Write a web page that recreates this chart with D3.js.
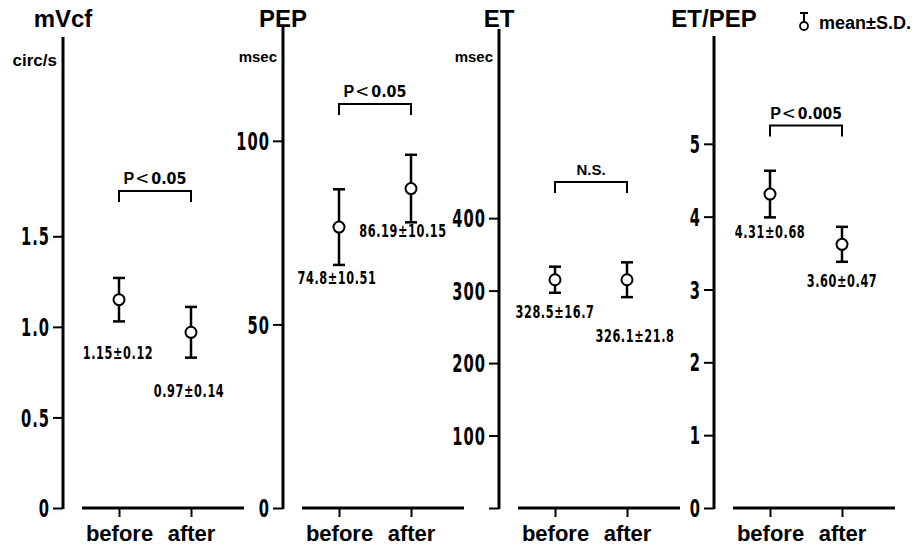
<!DOCTYPE html>
<html>
<head>
<meta charset="utf-8">
<script src="https://cdn.jsdelivr.net/npm/d3@7"></script>
<style>
  body { margin: 0; background: #fff; }
  svg { display: block; }
  .narrow { font-family: "DejaVu Sans Condensed", "DejaVu Sans", sans-serif; font-weight: bold; }
  .sans { font-family: "Liberation Sans", Arial, sans-serif; font-weight: bold; }
</style>
</head>
<body>
<svg id="chart"></svg>
<script>
// chart size
const width = 924;
const height = 545;

// DATA
const titles = ["mVcf", "PEP", "ET", "ET/PEP"];
const units = ["circ/s", "msec", "msec", ""];
const groups = ["before", "after"];
// means and half bar lengths as drawn
const means = [[1.15, 0.97], [76.5, 87.0], [315, 315], [4.31, 3.62]];
const bars = [[0.12, 0.14], [10.3, 9.2], [18, 24], [0.32, 0.24]];
const valueLabels = [
  ["1.15±0.12", "0.97±0.14"],
  ["74.8±10.51", "86.19±10.15"],
  ["328.5±16.7", "326.1±21.8"],
  ["4.31±0.68", "3.60±0.47"]
];
const sigLabels = ["P<0.05", "P<0.05", "N.S.", "P<0.005"];
const sigLevel = [1.75, 110, 450, 5.25];
const yMax = [2.6, 131, 661, 6.48];
const yTicks = [[0, 0.5, 1.0, 1.5], [0, 50, 100], [0, 100, 200, 300, 400], [0, 1, 2, 3, 4, 5]];
const yTickLabels = [["0", "0.5", "1.0", "1.5"], ["0", "50", "100"], ["", "100", "200", "300", "400"], ["0", "1", "2", "3", "4", "5"]];

// layout
const axisX = [63, 283, 499, 714];
const axisTop = [37, 27, 29, 36];
const baseY = 508;
const labelDx = [[-1, -2], [-2, -8], [0, 8], [0, 0]];
const labelDy = [[38, 39], [19, 15], [25, 45], [21, 25]];

// the figure uses a condensed face: squash the text horizontally
function squash(sel, sx) {
  sel.each(function () {
    const t = d3.select(this);
    const x = +t.attr("x") || 0;
    const y = +t.attr("y") || 0;
    t.attr("x", 0).attr("y", 0).attr("transform", `translate(${x},${y}) scale(${sx},1)`);
  });
}

const svg = d3.select("#chart").attr("width", width).attr("height", height);

titles.forEach((title, p) => {
  const x0 = axisX[p];

  const y = d3.scaleLinear().domain([0, yMax[p]]).range([baseY, axisTop[p]]);
  const x = d3.scalePoint().domain(groups).range([x0 + 56, x0 + 128]);

  const g = svg.append("g");

  // title and unit
  g.append("text").attr("class", "sans")
    .attr("x", x0).attr("y", 27)
    .attr("text-anchor", "middle").attr("font-size", 24)
    .text(title);

  if (units[p]) {
    g.append("text").attr("class", "sans")
      .attr("x", x0 - 6).attr("y", p === 0 ? 66 : 62)
      .attr("text-anchor", "end").attr("font-size", p === 0 ? 17 : 15)
      .text(units[p]);
  }

  // y axis
  const yAxis = d3.axisLeft(y)
    .tickValues(yTicks[p])
    .tickSize(10)
    .tickPadding(3)
    .tickFormat((d, i) => yTickLabels[p][i]);

  const ya = g.append("g")
    .attr("transform", `translate(${x0},0)`)
    .call(yAxis);
  ya.select(".domain").remove();
  ya.selectAll(".tick line").attr("stroke", "#000").attr("stroke-width", 2);
  ya.selectAll(".tick text")
    .attr("class", "narrow")
    .attr("font-size", 24)
    .attr("dy", "0.36em")
    .attr("fill", "#000")
    .attr("letter-spacing", 1.5)
    .call(squash, 0.68);

  g.append("line")
    .attr("x1", x0).attr("x2", x0)
    .attr("y1", axisTop[p]).attr("y2", baseY + 1)
    .attr("stroke", "#000").attr("stroke-width", 3);

  // x axis
  const xAxis = d3.axisBottom(x).tickSize(9).tickPadding(6).tickSizeOuter(0);
  const xa = g.append("g")
    .attr("transform", `translate(0,${baseY})`)
    .call(xAxis);
  xa.select(".domain").remove();
  xa.selectAll(".tick line").attr("stroke", "#000").attr("stroke-width", 2);
  xa.selectAll(".tick text")
    .attr("class", "sans")
    .attr("font-size", 22)
    .attr("y", 33)
    .attr("dy", 0)
    .attr("fill", "#000");

  g.append("line")
    .attr("x1", x0 + 19).attr("x2", x0 + 181)
    .attr("y1", baseY).attr("y2", baseY)
    .attr("stroke", "#000").attr("stroke-width", 3);

  // significance bracket
  const by = y(sigLevel[p]);
  g.append("path")
    .attr("d", `M${x("before")},${by + 11}V${by}H${x("after")}V${by + 11}`)
    .attr("fill", "none").attr("stroke", "#000").attr("stroke-width", 2);

  const sig = g.append("text")
    .attr("x", (x("before") + x("after")) / 2).attr("y", by - 7)
    .attr("text-anchor", "middle").attr("font-size", 15);
  if (sigLabels[p].startsWith("P")) {
    const digits = sigLabels[p].slice(2);
    sig.append("tspan").attr("class", "sans").attr("font-size", 16).text("P");
    sig.append("tspan").attr("font-family", "DejaVu Sans").attr("font-size", 17).attr("dx", 1)
      .attr("textLength", 14).attr("lengthAdjust", "spacingAndGlyphs").text("<");
    sig.append("tspan").attr("class", "narrow").attr("dx", 2)
      .attr("textLength", digits.length * 8.8).attr("lengthAdjust", "spacingAndGlyphs")
      .text(digits);
  } else {
    sig.attr("class", "sans").attr("font-size", 15).text(sigLabels[p]);
  }

  // error bars
  const pts = groups.map((grp, i) => ({ grp, m: means[p][i], s: bars[p][i], label: valueLabels[p][i], i }));

  const eb = g.selectAll(".eb").data(pts).enter().append("g").attr("class", "eb");
  eb.append("line")
    .attr("x1", d => x(d.grp)).attr("x2", d => x(d.grp))
    .attr("y1", d => y(d.m + d.s)).attr("y2", d => y(d.m - d.s))
    .attr("stroke", "#000").attr("stroke-width", 2.5);
  eb.append("line")
    .attr("x1", d => x(d.grp) - 6).attr("x2", d => x(d.grp) + 6)
    .attr("y1", d => y(d.m + d.s)).attr("y2", d => y(d.m + d.s))
    .attr("stroke", "#000").attr("stroke-width", 2.5);
  eb.append("line")
    .attr("x1", d => x(d.grp) - 6).attr("x2", d => x(d.grp) + 6)
    .attr("y1", d => y(d.m - d.s)).attr("y2", d => y(d.m - d.s))
    .attr("stroke", "#000").attr("stroke-width", 2.5);
  eb.append("circle")
    .attr("cx", d => x(d.grp)).attr("cy", d => y(d.m))
    .attr("r", 5.5)
    .attr("fill", "#fff").attr("stroke", "#000").attr("stroke-width", 2);

  eb.append("text")
    .attr("class", "narrow")
    .attr("x", d => x(d.grp) + labelDx[p][d.i])
    .attr("y", d => y(d.m - d.s) + labelDy[p][d.i])
    .attr("text-anchor", "middle")
    .attr("font-size", 17)
    .attr("letter-spacing", 0.8)
    .text(d => d.label)
    .call(squash, 0.74);
});

// legend
const leg = svg.append("g").attr("transform", "translate(804,0)");
leg.append("line").attr("x1", -4).attr("x2", 4).attr("y1", 13).attr("y2", 13).attr("stroke", "#000").attr("stroke-width", 2);
leg.append("line").attr("x1", 0).attr("x2", 0).attr("y1", 13).attr("y2", 22).attr("stroke", "#000").attr("stroke-width", 2);
leg.append("circle").attr("cx", 0).attr("cy", 26).attr("r", 4).attr("fill", "#fff").attr("stroke", "#000").attr("stroke-width", 1.8);
leg.append("text").attr("class", "sans").attr("x", 15).attr("y", 29).attr("font-size", 18).text("mean±S.D.");
</script>
</body>
</html>
